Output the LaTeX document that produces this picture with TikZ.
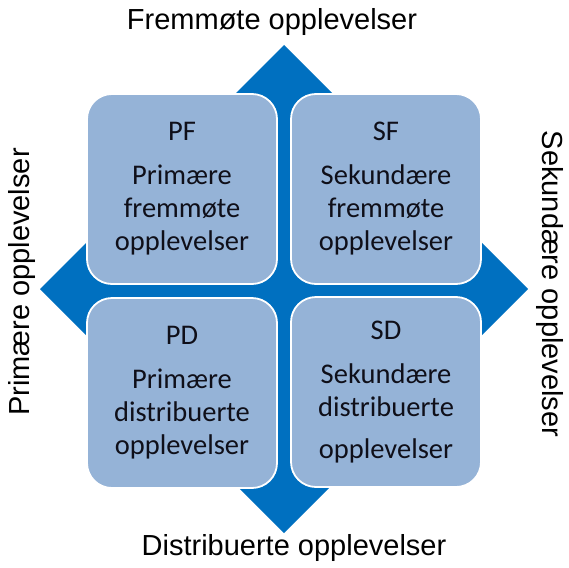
\documentclass[tikz,border=0pt]{standalone}
\usepackage{fontspec}
\setmainfont{Carlito}
\newfontfamily\arialfont{Liberation Sans}
\definecolor{darkblue}{RGB}{0, 112, 192}
\definecolor{lblue}{RGB}{149, 179, 215}
\definecolor{inkgray}{RGB}{15, 15, 25}
\tikzset{
	quad/.style = {rectangle, rounded corners = 25pt, fill = lblue, draw = white, line width = 1.8pt, minimum width = 190pt, minimum height = 190pt, align = center, text = inkgray, font = \fontsize{28.5}{33}\selectfont},
	axis/.style = {font = \arialfont\fontsize{29}{34}\selectfont}
}
\begin{document}
\begin{tikzpicture}[x = 1pt, y = -1pt]
			\useasboundingbox (0,0) rectangle (569,567);
			\fill[darkblue] (284,45) -- (528,289) -- (284,533) -- (40,289) -- cycle;
			\node (pf) at (182,189) [quad] {PF\\[11pt]Primære\\fremmøte\\opplevelser};
			\node (sf) at (386,189) [quad] {SF\\[11pt]Sekundære\\fremmøte\\opplevelser};
			\node (pd) at (182,393) [quad] {PD\\[11pt]Primære\\distribuerte\\opplevelser};
			\node (sd) at (386,392) [quad] {SD\\[11pt]Sekundære\\distribuerte\\[9pt]opplevelser};
			\node (top) at (272,22) [axis] {Fremmøte opplevelser};
			\node (bottom) at (294,548) [axis] {Distribuerte opplevelser};
			\node (left) at (22,282) [axis, rotate = 90] {Primære opplevelser};
			\node (right) at (550,284) [axis, rotate = -90] {Sekundære opplevelser};
\end{tikzpicture}
\end{document}
